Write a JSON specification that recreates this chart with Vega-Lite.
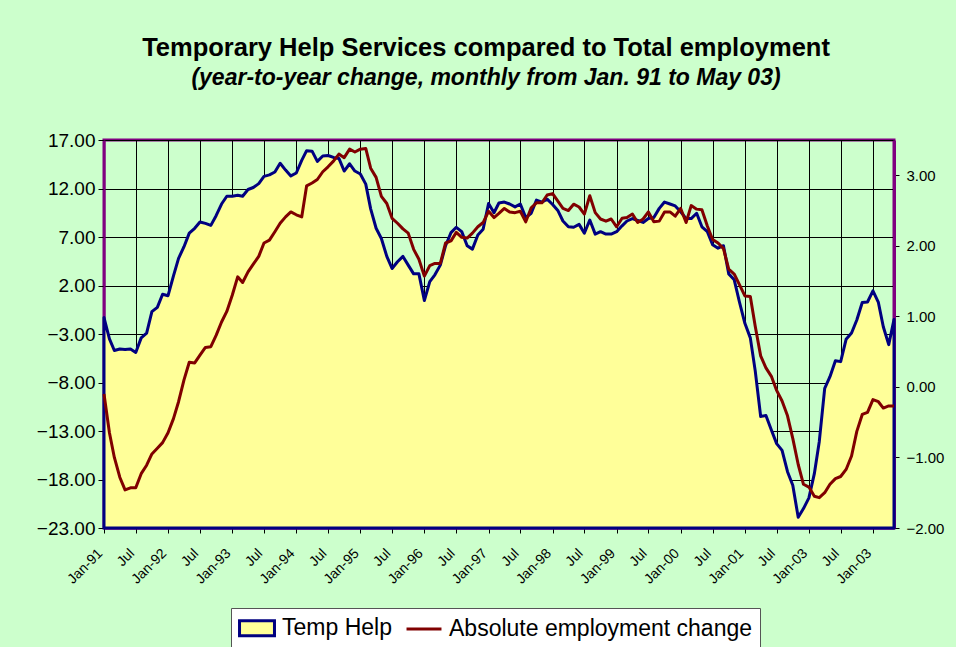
{
  "$schema": "https://vega.github.io/schema/vega-lite/v6.json",
  "autosize": {"type": "none"},
  "padding": {"left": 104, "top": 140, "right": 62, "bottom": 119},
  "width": 790,
  "height": 388,
  "background": "#CCFFCC",
  "config": {
    "font": "Liberation Sans",
    "view": {"stroke": "#800080", "strokeWidth": 3, "fill": "#CCFFCC"},
    "legend": {
      "title": null,
      "orient": "none",
      "legendX": 127,
      "legendY": 468,
      "direction": "horizontal",
      "fillColor": "white",
      "strokeColor": "#555555",
      "padding": 7,
      "labelFont": "Liberation Sans",
      "labelFontSize": 23,
      "labelColor": "black",
      "labelLimit": 500,
      "labelOffset": 12,
      "symbolSize": 529,
      "symbolOffset": 6,
      "symbolStrokeWidth": 3,
      "columnPadding": 8
    }
  },
  "title": {
    "text": "Temporary Help Services compared to Total employment",
    "subtitle": "(year-to-year change, monthly from Jan. 91 to May 03)",
    "font": "Liberation Sans",
    "fontSize": 25.5,
    "fontWeight": "bold",
    "color": "black",
    "subtitleFont": "Liberation Sans",
    "subtitleFontSize": 23,
    "subtitleFontStyle": "italic",
    "subtitleFontWeight": "bold",
    "subtitleColor": "black",
    "subtitlePadding": 6,
    "anchor": "middle",
    "frame": "group",
    "offset": 41,
    "dx": -13
  },
  "data": {
    "values": [
      {"date": "1991-01", "temp": -1.3, "emp": -0.1},
      {"date": "1991-02", "temp": -3.5, "emp": -0.65},
      {"date": "1991-03", "temp": -4.7, "emp": -1.0},
      {"date": "1991-04", "temp": -4.55, "emp": -1.28},
      {"date": "1991-05", "temp": -4.6, "emp": -1.46},
      {"date": "1991-06", "temp": -4.55, "emp": -1.43},
      {"date": "1991-07", "temp": -4.9, "emp": -1.43},
      {"date": "1991-08", "temp": -3.4, "emp": -1.23},
      {"date": "1991-09", "temp": -2.9, "emp": -1.11},
      {"date": "1991-10", "temp": -0.7, "emp": -0.95},
      {"date": "1991-11", "temp": -0.25, "emp": -0.87},
      {"date": "1991-12", "temp": 1.1, "emp": -0.79},
      {"date": "1992-01", "temp": 0.95, "emp": -0.65},
      {"date": "1992-02", "temp": 3.0, "emp": -0.45},
      {"date": "1992-03", "temp": 4.8, "emp": -0.21},
      {"date": "1992-04", "temp": 6.0, "emp": 0.1},
      {"date": "1992-05", "temp": 7.4, "emp": 0.35},
      {"date": "1992-06", "temp": 7.9, "emp": 0.34},
      {"date": "1992-07", "temp": 8.55, "emp": 0.45},
      {"date": "1992-08", "temp": 8.4, "emp": 0.56},
      {"date": "1992-09", "temp": 8.2, "emp": 0.57},
      {"date": "1992-10", "temp": 9.2, "emp": 0.73},
      {"date": "1992-11", "temp": 10.4, "emp": 0.92},
      {"date": "1992-12", "temp": 11.2, "emp": 1.07},
      {"date": "1993-01", "temp": 11.2, "emp": 1.3},
      {"date": "1993-02", "temp": 11.3, "emp": 1.56},
      {"date": "1993-03", "temp": 11.2, "emp": 1.48},
      {"date": "1993-04", "temp": 11.9, "emp": 1.63},
      {"date": "1993-05", "temp": 12.1, "emp": 1.74},
      {"date": "1993-06", "temp": 12.5, "emp": 1.85},
      {"date": "1993-07", "temp": 13.25, "emp": 2.04},
      {"date": "1993-08", "temp": 13.4, "emp": 2.08},
      {"date": "1993-09", "temp": 13.7, "emp": 2.2},
      {"date": "1993-10", "temp": 14.6, "emp": 2.32},
      {"date": "1993-11", "temp": 13.9, "emp": 2.41},
      {"date": "1993-12", "temp": 13.3, "emp": 2.48},
      {"date": "1994-01", "temp": 13.6, "emp": 2.44},
      {"date": "1994-02", "temp": 14.9, "emp": 2.41},
      {"date": "1994-03", "temp": 15.9, "emp": 2.85},
      {"date": "1994-04", "temp": 15.85, "emp": 2.89},
      {"date": "1994-05", "temp": 14.8, "emp": 2.94},
      {"date": "1994-06", "temp": 15.35, "emp": 3.05},
      {"date": "1994-07", "temp": 15.4, "emp": 3.12},
      {"date": "1994-08", "temp": 15.2, "emp": 3.2},
      {"date": "1994-09", "temp": 15.1, "emp": 3.3},
      {"date": "1994-10", "temp": 13.8, "emp": 3.25},
      {"date": "1994-11", "temp": 14.55, "emp": 3.37},
      {"date": "1994-12", "temp": 13.8, "emp": 3.33},
      {"date": "1995-01", "temp": 13.5, "emp": 3.37},
      {"date": "1995-02", "temp": 12.45, "emp": 3.38},
      {"date": "1995-03", "temp": 9.9, "emp": 3.1},
      {"date": "1995-04", "temp": 7.9, "emp": 2.97},
      {"date": "1995-05", "temp": 6.85, "emp": 2.7},
      {"date": "1995-06", "temp": 5.0, "emp": 2.6},
      {"date": "1995-07", "temp": 3.75, "emp": 2.39},
      {"date": "1995-08", "temp": 4.45, "emp": 2.32},
      {"date": "1995-09", "temp": 5.0, "emp": 2.24},
      {"date": "1995-10", "temp": 4.1, "emp": 2.18},
      {"date": "1995-11", "temp": 3.2, "emp": 1.95},
      {"date": "1995-12", "temp": 3.2, "emp": 1.81},
      {"date": "1996-01", "temp": 0.45, "emp": 1.57},
      {"date": "1996-02", "temp": 2.4, "emp": 1.72},
      {"date": "1996-03", "temp": 3.1, "emp": 1.75},
      {"date": "1996-04", "temp": 4.1, "emp": 1.75},
      {"date": "1996-05", "temp": 6.1, "emp": 2.04},
      {"date": "1996-06", "temp": 7.45, "emp": 2.07},
      {"date": "1996-07", "temp": 8.0, "emp": 2.19},
      {"date": "1996-08", "temp": 7.55, "emp": 2.12},
      {"date": "1996-09", "temp": 6.1, "emp": 2.11},
      {"date": "1996-10", "temp": 5.75, "emp": 2.18},
      {"date": "1996-11", "temp": 7.2, "emp": 2.27},
      {"date": "1996-12", "temp": 7.8, "emp": 2.33},
      {"date": "1997-01", "temp": 10.45, "emp": 2.49},
      {"date": "1997-02", "temp": 9.5, "emp": 2.4},
      {"date": "1997-03", "temp": 10.5, "emp": 2.46},
      {"date": "1997-04", "temp": 10.6, "emp": 2.53},
      {"date": "1997-05", "temp": 10.4, "emp": 2.48},
      {"date": "1997-06", "temp": 10.1, "emp": 2.47},
      {"date": "1997-07", "temp": 10.4, "emp": 2.49},
      {"date": "1997-08", "temp": 9.0, "emp": 2.34},
      {"date": "1997-09", "temp": 9.45, "emp": 2.54},
      {"date": "1997-10", "temp": 10.8, "emp": 2.61},
      {"date": "1997-11", "temp": 10.6, "emp": 2.61},
      {"date": "1997-12", "temp": 10.9, "emp": 2.72},
      {"date": "1998-01", "temp": 10.35, "emp": 2.74},
      {"date": "1998-02", "temp": 9.7, "emp": 2.63},
      {"date": "1998-03", "temp": 8.65, "emp": 2.53},
      {"date": "1998-04", "temp": 8.05, "emp": 2.5},
      {"date": "1998-05", "temp": 8.0, "emp": 2.59},
      {"date": "1998-06", "temp": 8.3, "emp": 2.55},
      {"date": "1998-07", "temp": 7.4, "emp": 2.45},
      {"date": "1998-08", "temp": 8.75, "emp": 2.71},
      {"date": "1998-09", "temp": 7.3, "emp": 2.47},
      {"date": "1998-10", "temp": 7.55, "emp": 2.38},
      {"date": "1998-11", "temp": 7.3, "emp": 2.35},
      {"date": "1998-12", "temp": 7.3, "emp": 2.38},
      {"date": "1999-01", "temp": 7.55, "emp": 2.27},
      {"date": "1999-02", "temp": 8.15, "emp": 2.39},
      {"date": "1999-03", "temp": 8.65, "emp": 2.4},
      {"date": "1999-04", "temp": 8.9, "emp": 2.45},
      {"date": "1999-05", "temp": 8.7, "emp": 2.33},
      {"date": "1999-06", "temp": 8.5, "emp": 2.38},
      {"date": "1999-07", "temp": 8.9, "emp": 2.48},
      {"date": "1999-08", "temp": 9.0, "emp": 2.34},
      {"date": "1999-09", "temp": 9.95, "emp": 2.35},
      {"date": "1999-10", "temp": 10.6, "emp": 2.48},
      {"date": "1999-11", "temp": 10.4, "emp": 2.48},
      {"date": "1999-12", "temp": 10.2, "emp": 2.42},
      {"date": "2000-01", "temp": 9.6, "emp": 2.53},
      {"date": "2000-02", "temp": 8.9, "emp": 2.33},
      {"date": "2000-03", "temp": 8.9, "emp": 2.57},
      {"date": "2000-04", "temp": 9.45, "emp": 2.52},
      {"date": "2000-05", "temp": 8.05, "emp": 2.51},
      {"date": "2000-06", "temp": 7.55, "emp": 2.28},
      {"date": "2000-07", "temp": 6.2, "emp": 2.09},
      {"date": "2000-08", "temp": 5.85, "emp": 2.04},
      {"date": "2000-09", "temp": 6.1, "emp": 1.96},
      {"date": "2000-10", "temp": 3.2, "emp": 1.67},
      {"date": "2000-11", "temp": 2.6, "emp": 1.6},
      {"date": "2000-12", "temp": 0.3, "emp": 1.45},
      {"date": "2001-01", "temp": -1.9, "emp": 1.29},
      {"date": "2001-02", "temp": -3.4, "emp": 1.28},
      {"date": "2001-03", "temp": -6.8, "emp": 0.86},
      {"date": "2001-04", "temp": -11.5, "emp": 0.44},
      {"date": "2001-05", "temp": -11.4, "emp": 0.27},
      {"date": "2001-06", "temp": -12.9, "emp": 0.15},
      {"date": "2001-07", "temp": -14.3, "emp": -0.05},
      {"date": "2001-08", "temp": -15.0, "emp": -0.2},
      {"date": "2001-09", "temp": -17.2, "emp": -0.41},
      {"date": "2001-10", "temp": -18.6, "emp": -0.73},
      {"date": "2001-11", "temp": -21.9, "emp": -1.1},
      {"date": "2001-12", "temp": -21.0, "emp": -1.38},
      {"date": "2002-01", "temp": -19.9, "emp": -1.42},
      {"date": "2002-02", "temp": -17.4, "emp": -1.55},
      {"date": "2002-03", "temp": -14.1, "emp": -1.57},
      {"date": "2002-04", "temp": -8.6, "emp": -1.5},
      {"date": "2002-05", "temp": -7.4, "emp": -1.38},
      {"date": "2002-06", "temp": -5.75, "emp": -1.3},
      {"date": "2002-07", "temp": -5.85, "emp": -1.27},
      {"date": "2002-08", "temp": -3.55, "emp": -1.17},
      {"date": "2002-09", "temp": -2.9, "emp": -0.98},
      {"date": "2002-10", "temp": -1.55, "emp": -0.63},
      {"date": "2002-11", "temp": 0.25, "emp": -0.39},
      {"date": "2002-12", "temp": 0.3, "emp": -0.36},
      {"date": "2003-01", "temp": 1.45, "emp": -0.18},
      {"date": "2003-02", "temp": 0.25, "emp": -0.21},
      {"date": "2003-03", "temp": -2.25, "emp": -0.3},
      {"date": "2003-04", "temp": -4.1, "emp": -0.27},
      {"date": "2003-05", "temp": -1.5, "emp": -0.27}
    ]
  },
  "encoding": {
    "x": {
      "field": "date",
      "type": "temporal",
      "scale": {"type": "utc", "nice": false},
      "axis": {
        "title": null,
        "tickCount": {"interval": "month", "step": 6},
        "labelExpr": "utcFormat(datum.value, '%m') == '07' ? 'Jul' : (utcFormat(datum.value, '%Y') == '2002' ? 'Jan-03' : utcFormat(datum.value, '%b-%y'))",
        "labelAngle": -45,
        "labelAlign": "right",
        "labelBaseline": "middle",
        "labelFont": "Liberation Sans",
        "labelFontSize": 14,
        "labelColor": "black",
        "labelPadding": 18,
        "labelOffset": -4,
        "labelOverlap": false,
        "labelFlush": false,
        "labelBound": false,
        "tickSize": 5,
        "tickColor": "black",
        "domainColor": "#800080",
        "domainWidth": 2,
        "grid": true,
        "gridColor": "black",
        "gridOpacity": 1,
        "gridWidth": 1
      }
    }
  },
  "layer": [
    {
      "mark": {"type": "area", "strokeWidth": 3, "strokeJoin": "round", "opacity": 1, "fillOpacity": 1},
      "encoding": {
        "y": {
          "field": "temp",
          "type": "quantitative",
          "scale": {"domain": [-23, 17], "zero": false, "nice": false},
          "axis": {
            "title": null,
            "values": [-23, -18, -13, -8, -3, 2, 7, 12, 17],
            "format": ".2f",
            "labelFont": "Liberation Sans",
            "labelFontSize": 19,
            "labelColor": "black",
            "labelPadding": 3,
            "labelFlush": false,
            "tickSize": 6,
            "tickColor": "black",
            "domainColor": "#800080",
            "domainWidth": 2,
            "grid": true,
            "gridColor": "black",
            "gridOpacity": 1,
            "gridWidth": 1
          }
        },
        "y2": {"datum": -23},
        "fill": {
          "datum": "Temp Help",
          "type": "nominal",
          "scale": {"domain": ["Temp Help", "Absolute employment change"], "range": ["#FFFF99", "transparent"]},
          "legend": {
            "encode": {
              "symbols": {
                "update": {
                  "shape": {"signal": "datum.value === 'Temp Help' ? 'M-1.52,-0.65H1.52V0.65H-1.52Z' : 'M-1.52,0H1.52'"},
                  "strokeWidth": {"value": 3},
                  "opacity": {"value": 1}
                }
              }
            }
          }
        },
        "stroke": {
          "datum": "Temp Help",
          "type": "nominal",
          "scale": {"domain": ["Temp Help", "Absolute employment change"], "range": ["#000080", "#800000"]},
          "legend": {
            "encode": {
              "symbols": {
                "update": {
                  "shape": {"signal": "datum.value === 'Temp Help' ? 'M-1.52,-0.65H1.52V0.65H-1.52Z' : 'M-1.52,0H1.52'"},
                  "strokeWidth": {"value": 3},
                  "opacity": {"value": 1}
                }
              }
            }
          }
        }
      }
    },
    {
      "mark": {"type": "line", "strokeWidth": 3, "strokeJoin": "round"},
      "encoding": {
        "y": {
          "field": "emp",
          "type": "quantitative",
          "scale": {"domain": [-2, 3.5], "zero": false, "nice": false},
          "axis": {
            "orient": "right",
            "title": null,
            "values": [-2, -1, 0, 1, 2, 3],
            "format": ".2f",
            "labelFont": "Liberation Sans",
            "labelFontSize": 15,
            "labelColor": "black",
            "labelPadding": 7,
            "labelFlush": false,
            "tickSize": 5,
            "tickColor": "black",
            "domainColor": "#800080",
            "domainWidth": 3,
            "grid": false
          }
        },
        "stroke": {
          "datum": "Absolute employment change",
          "type": "nominal",
          "legend": {
            "encode": {
              "symbols": {
                "update": {
                  "shape": {"signal": "datum.value === 'Temp Help' ? 'M-1.52,-0.65H1.52V0.65H-1.52Z' : 'M-1.52,0H1.52'"},
                  "strokeWidth": {"value": 3},
                  "opacity": {"value": 1}
                }
              }
            }
          }
        }
      }
    }
  ],
  "resolve": {"scale": {"y": "independent"}}
}
